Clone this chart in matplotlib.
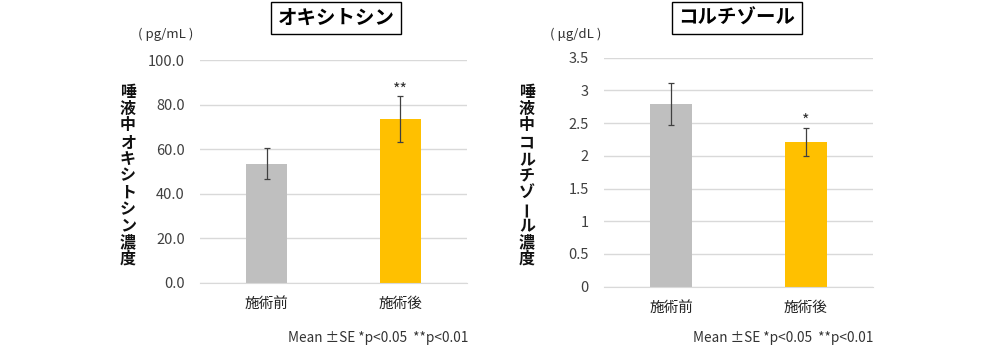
import matplotlib
matplotlib.use("Agg")
import matplotlib.pyplot as plt

plt.rcParams['font.family'] = ['Noto Sans CJK JP', 'DejaVu Sans']

categories = ["施術前", "施術後"]
oxy_values = [53.5, 73.6]
oxy_se = [7.0, 10.2]
oxy_sig = ["", "**"]
cort_values = [2.79, 2.21]
cort_se = [0.32, 0.21]
cort_sig = ["", "*"]
oxy_ticks = [0, 20, 40, 60, 80, 100]
cort_ticks = [0, 0.5, 1, 1.5, 2, 2.5, 3, 3.5]
colors = ["#BFBFBF", "#FFC000"]

W, H = 1000, 355
fig = plt.figure(figsize=(10, 3.55), dpi=100)

def vertical_label(text, xpx, y_first, y_last):
    n = len(text)
    step = (y_last - y_first) / (n - 1)
    for i, ch in enumerate(text):
        ypx = y_first + i * step
        rot = 90 if ch == "ー" else 0
        fig.text(xpx / W, 1 - ypx / H, ch, ha='center', va='center', fontsize=11.5,
                 fontweight='bold', color='#111111', rotation=rot)

def panel(rect, values, se, sig, ticks, ymax, fmt, title, title_x, unit, unit_x, ylabel, ylabel_x, foot_x, sig_offset):
    ax = fig.add_axes(rect)
    x = range(len(categories))
    ax.bar(x, values, width=0.31, color=colors, zorder=2)
    ax.errorbar(x, values, yerr=se, fmt='none', ecolor='#404040', elinewidth=0.9,
                capsize=2.5, capthick=0.9, zorder=3)
    for i, s in enumerate(sig):
        if s:
            ax.text(i, values[i] + se[i] + sig_offset, s, ha='center', va='bottom', fontsize=11.5, color='#333333')
    ax.set_xlim(-0.5, len(categories) - 0.5)
    ax.set_ylim(0, ymax)
    ax.set_yticks(ticks)
    ax.set_yticklabels([fmt(t) for t in ticks], fontsize=10.5, color='#404040')
    ax.set_xticks(list(x))
    ax.set_xticklabels(categories, fontsize=10.5, color='#222222')
    ax.yaxis.grid(True, color='#D9D9D9', linewidth=1, zorder=0)
    ax.set_axisbelow(True)
    for sp in ['top', 'right', 'left']:
        ax.spines[sp].set_visible(False)
    ax.spines['bottom'].set_color('#D9D9D9')
    ax.tick_params(axis='both', length=0)
    ax.tick_params(axis='y', pad=11)
    ax.tick_params(axis='x', pad=10)
    fig.text(title_x, 1 - 18 / H, title, ha='center', va='center', fontsize=14, fontweight='bold',
             bbox=dict(boxstyle='square,pad=0.35', facecolor='white', edgecolor='black', linewidth=1))
    fig.text(unit_x, 1 - 34 / H, unit, ha='center', va='center', fontsize=9.5, color='#333333')
    vertical_label(ylabel, ylabel_x, 92, 259)
    fig.text(foot_x, 1 - 338 / H, "Mean ±SE *p<0.05  **p<0.01", ha='right', va='center', fontsize=9.8, color='#333333')
    return ax

panel([200 / W, (H - 283) / H, 267 / W, 223 / H], oxy_values, oxy_se, oxy_sig, oxy_ticks, 100,
      lambda t: f"{t:.1f}", "オキシトシン", 336 / W, "( pg/mL )", 166 / W,
      "唾液中オキシトシン濃度", 128, 468 / W, -1.0)
panel([604 / W, (H - 286.7) / H, 269 / W, 229 / H], cort_values, cort_se, cort_sig, cort_ticks, 3.5,
      lambda t: f"{t:g}", "コルチゾール", 737 / W, "( μg/dL )", 576 / W,
      "唾液中コルチゾール濃度", 527, 873 / W, -0.02)

fig.savefig("out.png", dpi=100, facecolor='white')
